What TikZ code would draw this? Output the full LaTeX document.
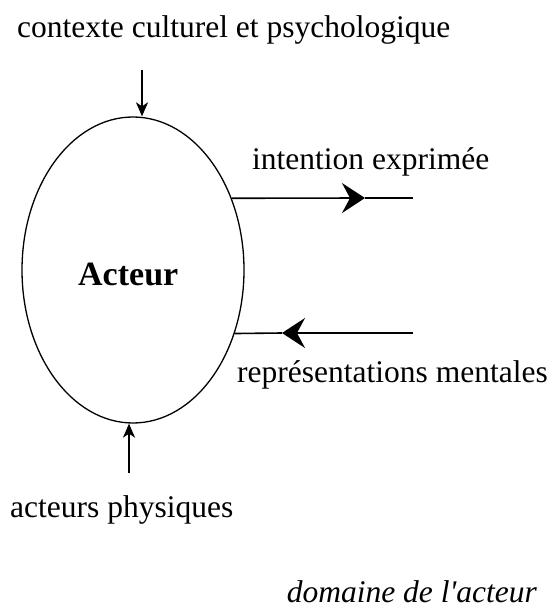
\documentclass[tikz,border=0pt]{standalone}
\usepackage{fontspec}
\setmainfont{Liberation Serif}
\usepackage{tikz}
\usetikzlibrary{shapes.geometric, arrows.meta, positioning}
\tikzset{
    lbl/.style={inner sep=0pt, font=\fontsize{31.5}{36}\selectfont},
    actorblk/.style={ellipse, draw=black, line width=1.3pt, minimum width=222pt, minimum height=306pt, inner sep=0pt},
    bigtip/.style={-{Stealth[length=23pt, width=30pt, inset=8pt]}, line width=1.6pt},
    smalltip/.style={-{Stealth[length=14pt, width=12pt, inset=4pt]}, line width=1.6pt},
    plain/.style={line width=1.6pt}
}
\begin{document}
\begin{tikzpicture}[x=1pt, y=-1pt]
  \useasboundingbox (0,0) rectangle (552,609);
  % acteur au centre
  \node[actorblk] (actor) at (133,270) {};
  \node[lbl, anchor=base west, font=\fontsize{34}{40}\selectfont\bfseries] (actorName) at (78,285) {Acteur};
  % textes
  \node[lbl, anchor=base west] (ctx) at (17,38) {contexte culturel et psychologique};
  \node[lbl, anchor=base west] (intent) at (252,170) {intention exprimée};
  \node[lbl, anchor=base west] (repr) at (237,382) {représentations mentales};
  \node[lbl, anchor=base west] (phys) at (10,517) {acteurs physiques};
  \node[lbl, anchor=base east, font=\fontsize{31.5}{36}\selectfont\itshape] (domain) at (537,602) {domaine de l\textquotesingle acteur};
  % bouts libres
  \coordinate (ctxTop) at (142,70);
  \coordinate (physBot) at (129,473);
  \coordinate (intentTip) at (365,198);
  \coordinate (intentEnd) at (413,198);
  \coordinate (reprEnd) at (413,333);
  \coordinate (reprTip) at (282,333);
  % fleches
  \draw[smalltip] (ctxTop) -- (ctxTop |- actor.north);
  \draw[smalltip] (physBot) -- (physBot |- actor.south);
  \draw[bigtip] (actor.36) -- (intentTip);
  \draw[plain] (intentTip) -- (intentEnd);
  \draw[bigtip] (reprEnd) -- (reprTip);
  \draw[plain] (reprTip) -- (actor.-32);
\end{tikzpicture}
\end{document}
